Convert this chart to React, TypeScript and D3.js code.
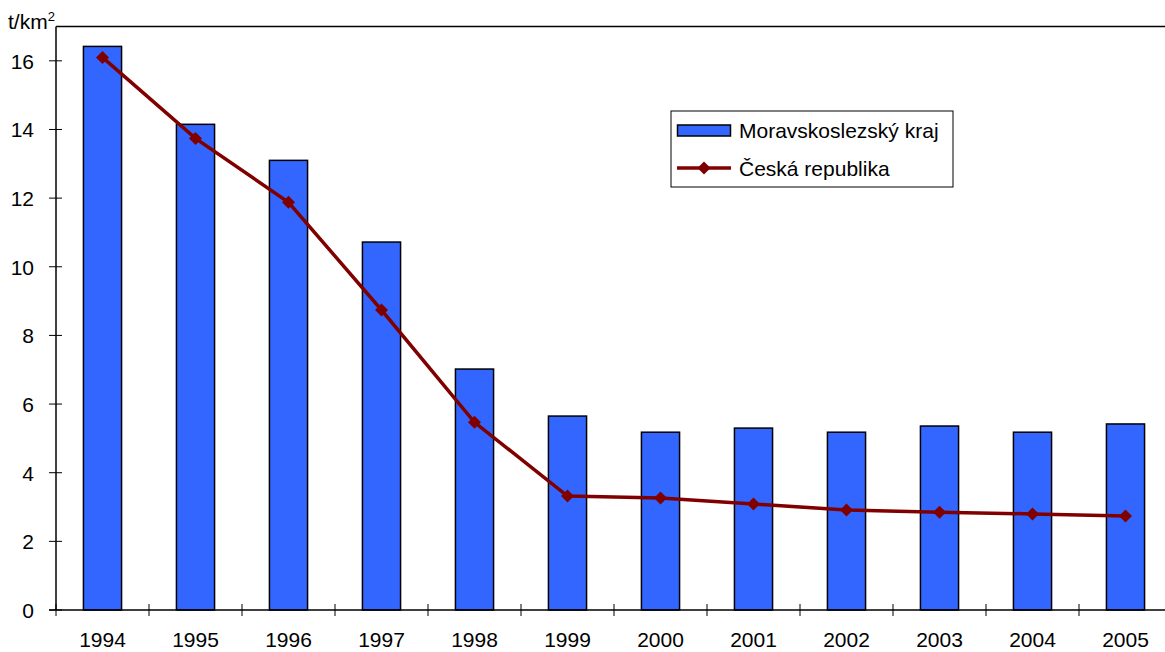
import React from "react";
import * as d3 from "d3";

const years = ["1994","1995","1996","1997","1998","1999","2000","2001","2002","2003","2004","2005"];
const regionValues = [16.42, 14.15, 13.1, 10.72, 7.02, 5.65, 5.18, 5.3, 5.18, 5.36, 5.18, 5.42];
const czValues = [16.1, 13.74, 11.88, 8.74, 5.47, 3.32, 3.26, 3.09, 2.91, 2.85, 2.8, 2.74];
const yTicks = [0, 2, 4, 6, 8, 10, 12, 14, 16];
const seriesNames = ["Moravskoslezský kraj", "Česká republika"];

const W = 1165, H = 652;
const left = 56, right = 1172, top = 26.5, bottom = 610;
const font = "'Liberation Sans', Arial, sans-serif";
const FS = 21;

export default function App() {
  const x = d3.scaleBand<string>().domain(years).range([left, right]).paddingInner(0.59).paddingOuter(0.295);
  const y = d3.scaleLinear().domain([0, 17]).range([bottom, top]);
  const cx = (d: string) => (x(d) as number) + x.bandwidth() / 2;
  const line = d3.line<number>().x((_, i) => cx(years[i])).y((v) => y(v));
  const boundaries = d3.range(years.length + 1).map((i) => left + (i * (right - left)) / years.length);
  const diamond = (px: number, py: number, r = 6.5) =>
    `M${px},${py - r}L${px + r},${py}L${px},${py + r}L${px - r},${py}Z`;

  return (
    <svg width={W} height={H} style={{ position: "absolute", left: 0, top: 0, fontFamily: font }}>
      <rect x={0} y={0} width={W} height={H} fill="#fff" />
      {regionValues.map((v, i) => (
        <rect key={i} x={x(years[i])} y={y(v)} width={x.bandwidth()} height={bottom - y(v)}
          fill="#3366FF" stroke="#000" strokeWidth={1.5} />
      ))}
      {/* axes */}
      <line x1={left} y1={top} x2={W} y2={top} stroke="#000" strokeWidth={1.5} />
      <line x1={left} y1={top} x2={left} y2={bottom} stroke="#000" strokeWidth={1.5} />
      <line x1={49} y1={bottom} x2={W} y2={bottom} stroke="#000" strokeWidth={1.5} />
      {yTicks.map((t) => (
        <g key={t}>
          <line x1={49} x2={62} y1={y(t)} y2={y(t)} stroke="#000" strokeWidth={1} />
          <text x={34} y={y(t) + 8} textAnchor="end" fontSize={FS} fill="#000">{t}</text>
        </g>
      ))}
      {boundaries.map((b, i) => (
        <line key={i} x1={b} x2={b} y1={bottom - 6} y2={bottom + 6} stroke="#000" strokeWidth={1} />
      ))}
      {years.map((yr) => (
        <text key={yr} x={cx(yr)} y={647} textAnchor="middle" fontSize={FS} fill="#000">{yr}</text>
      ))}
      <text x={8} y={29} fontSize={FS} fill="#000">t/km<tspan fontSize={13} dy={-8}>2</tspan></text>
      {/* line series */}
      <path d={line(czValues) || ""} fill="none" stroke="#800000" strokeWidth={3.5} />
      {czValues.map((v, i) => (
        <path key={i} d={diamond(cx(years[i]), y(v))} fill="#800000" />
      ))}
      {/* legend */}
      <rect x={671} y={111} width={282} height={76} fill="#fff" stroke="#000" strokeWidth={1} />
      <rect x={677.5} y={125} width={53} height={11} fill="#3366FF" stroke="#000" strokeWidth={1.5} />
      <text x={739} y={138} fontSize={FS} fill="#000">{seriesNames[0]}</text>
      <line x1={677} x2={731} y1={168} y2={168} stroke="#800000" strokeWidth={3.5} />
      <path d={diamond(704, 168)} fill="#800000" />
      <text x={739} y={176} fontSize={FS} fill="#000">{seriesNames[1]}</text>
    </svg>
  );
}
